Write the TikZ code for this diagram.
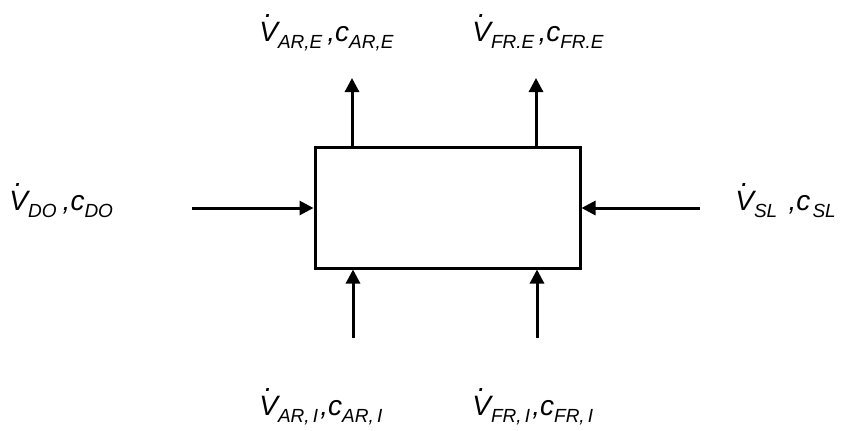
\documentclass[tikz,border=0pt]{standalone}
\usepackage{fontspec}
\setmainfont{Liberation Sans}
\usetikzlibrary{arrows.meta}
\newcommand{\Vdot}{\makebox[0pt][l]{\hspace{0.2em}\raisebox{0.84em}{.}}V}
\newcommand{\sbs}[1]{\raisebox{-0.27em}{\fontsize{9.5}{11}\selectfont #1}}
\tikzset{
  unit/.style = {rectangle, draw=black, line width=1.5pt, minimum width=132.5pt,
                 minimum height=60.5pt, inner sep=0pt},
  flow/.style = {-{Triangle[length=7pt, width=7pt]}, line width=1.5pt, black},
  lbl/.style  = {font=\fontsize{14}{16}\selectfont\itshape, inner sep=0pt,
                 anchor=base west},
}
\begin{document}
\begin{tikzpicture}[x=0.5pt, y=-0.5pt]
  \useasboundingbox (0,0) rectangle (843,430);

  % Mass balance unit
  \node[unit] (box) at (447.5,207.5) {};

  % Free ends of the streams
  \coordinate (arE) at (352,78);
  \coordinate (frE) at (536,78);
  \coordinate (doIn) at (192,208);
  \coordinate (slIn) at (700,208);
  \coordinate (arI) at (353,338);
  \coordinate (frI) at (537,338);

  % Outgoing streams
  \draw[flow] (box.north -| arE) -- (arE);
  \draw[flow] (box.north -| frE) -- (frE);

  % Incoming streams
  \draw[flow] (doIn) -- (box.west |- doIn);
  \draw[flow] (slIn) -- (box.east |- slIn);
  \draw[flow] (arI) -- (box.south -| arI);
  \draw[flow] (frI) -- (box.south -| frI);

  % Stream labels
  \node[lbl] (lblARE) at (259,41)  {\Vdot\sbs{AR,E}\hspace{0.18em},c\sbs{AR,E}};
  \node[lbl] (lblFRE) at (472,41)  {\Vdot\sbs{FR.E}\hspace{0.15em},c\sbs{FR.E}};
  \node[lbl] (lblDO)  at (9,210)   {\Vdot\sbs{DO}\hspace{0.22em},c\sbs{DO}};
  \node[lbl] (lblSL)  at (735,210) {\Vdot\sbs{SL}\hspace{0.4em},c\hspace{0.08em}\sbs{SL}};
  \node[lbl] (lblARI) at (259,415) {\Vdot\sbs{AR,\,I}\hspace{0.08em},c\sbs{AR,\,I}};
  \node[lbl] (lblFRI) at (472,415) {\Vdot\sbs{FR,\,I}\hspace{0.08em},c\sbs{FR,\,I}};
\end{tikzpicture}
\end{document}
